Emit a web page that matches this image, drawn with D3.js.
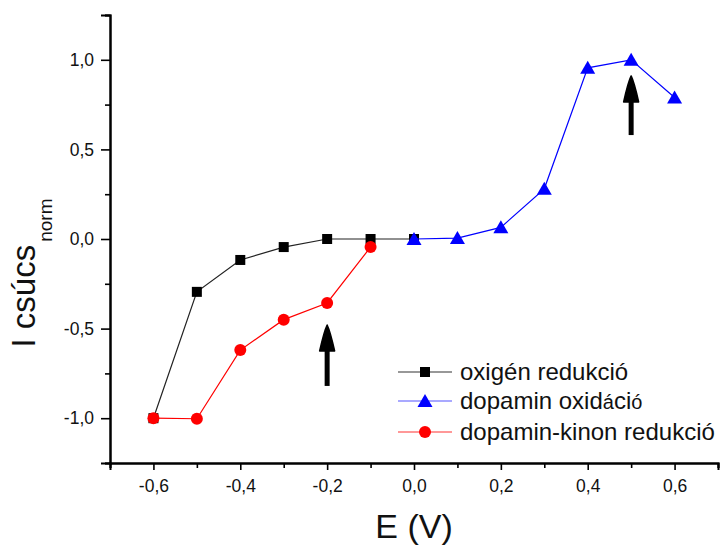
<!DOCTYPE html>
<html><head><meta charset="utf-8">
<script src="https://cdn.jsdelivr.net/npm/d3@7"></script>
<style>body{margin:0;background:#fff}svg{font-family:"Liberation Sans",Arial,sans-serif}</style>
</head><body>
<svg id="c" width="722" height="546"></svg>
<script>
const oxigenE = [-0.6,-0.5,-0.4,-0.3,-0.2,-0.1,0.0];
const oxigenI = [-1.0,-0.295,-0.117,-0.045,0.0,0.0,0.0];
const dopaminE = [0.0,0.1,0.2,0.3,0.4,0.5,0.6];
const dopaminI = [0.0,0.005,0.065,0.28,0.955,1.0,0.79];
const kinonE = [-0.6,-0.5,-0.4,-0.3,-0.2,-0.1];
const kinonI = [-1.0,-1.003,-0.62,-0.45,-0.357,-0.045];
const xTicks = [-0.6,-0.4,-0.2,0.0,0.2,0.4,0.6];
const yTicks = [-1.0,-0.5,0.0,0.5,1.0];
const arrowX = [-0.2, 0.5];
const arrowFrom = [-0.82, 0.58];
const arrowTo = [-0.48, 0.91];
const legendLabels = ["oxigén redukció","dopamin oxidáció","dopamin-kinon redukció"];

const svg = d3.select("#c");
const x = d3.scaleLinear().domain([-0.7,0.7]).range([110,718]);
const y = d3.scaleLinear().domain([-1.25,1.25]).range([463,15]);
const fmt = d => d3.format(".1f")(d).replace(".",",").replace("−","-");

// axes
const xAxis = svg.append("g").attr("transform","translate(0,463)")
  .call(d3.axisBottom(x).tickValues(xTicks).tickSize(7).tickFormat(fmt));
svg.append("g").attr("transform","translate(0,463)")
  .call(d3.axisBottom(x).tickValues(d3.range(-7,8,2).map(v=>v/10)).tickSize(5).tickFormat(""));
const yAxis = svg.append("g").attr("transform","translate(110,0)")
  .call(d3.axisLeft(y).tickValues(yTicks).tickSize(9).tickFormat(fmt));
svg.append("g").attr("transform","translate(110,0)")
  .call(d3.axisLeft(y).tickValues([-1.25,-0.75,-0.25,0.25,0.75,1.25]).tickSize(5).tickFormat(""));
svg.selectAll(".domain").attr("stroke","#000").attr("stroke-width",2);
svg.selectAll(".tick line").attr("stroke","#000").attr("stroke-width",1.6);
xAxis.selectAll(".tick text").attr("font-size",17.5).attr("dy","1.1em").attr("fill","#111");
yAxis.selectAll(".tick text").attr("font-size",17.5).attr("x",-16).attr("fill","#111");

// labels
svg.append("text").attr("x",414).attr("y",538).attr("text-anchor","middle")
  .attr("font-size",34).attr("fill","#111").text("E (V)");
const yl = svg.append("text").attr("transform","translate(35,273) rotate(-90)")
  .attr("text-anchor","middle").attr("font-size",33).attr("fill","#111");
yl.append("tspan").text("I csúcs");
yl.append("tspan").attr("font-size",19).attr("dy",17).attr("dx",3).text("norm");

// series
const line = d3.line().x(d=>x(d[0])).y(d=>y(d[1]));
const oxi = oxigenE.map((e,i)=>[e,oxigenI[i]]);
const dop = dopaminE.map((e,i)=>[e,dopaminI[i]]);
const kin = kinonE.map((e,i)=>[e,kinonI[i]]);
svg.append("path").attr("d",line(oxi)).attr("fill","none").attr("stroke","#222").attr("stroke-width",1.2);
svg.selectAll(".sq").data(oxi).enter().append("rect")
  .attr("x",d=>x(d[0])-5).attr("y",d=>y(d[1])-5).attr("width",10).attr("height",10).attr("fill","#000");
svg.append("path").attr("d",line(kin)).attr("fill","none").attr("stroke","#f00").attr("stroke-width",1.2);
svg.selectAll(".ci").data(kin).enter().append("circle")
  .attr("cx",d=>x(d[0])).attr("cy",d=>y(d[1])).attr("r",6).attr("fill","#f00");
svg.append("path").attr("d",line(dop)).attr("fill","none").attr("stroke","#00f").attr("stroke-width",1.2);
const tri = (cx,cy)=>`M${cx},${cy-7}L${cx+7.5},${cy+6}L${cx-7.5},${cy+6}Z`;
svg.selectAll(".tr").data(dop).enter().append("path")
  .attr("d",d=>tri(x(d[0]),y(d[1]))).attr("fill","#00f");

// arrows
arrowX.forEach((a,i)=>{
  const cx=x(a), y0=y(arrowFrom[i]), y1=y(arrowTo[i]);
  svg.append("line").attr("x1",cx).attr("x2",cx).attr("y1",y0).attr("y2",y1+20)
    .attr("stroke","#000").attr("stroke-width",5);
  svg.append("path").attr("d",`M${cx},${y1}Q${cx+3},${y1+6} ${cx+7.5},${y1+26}L${cx-7.5},${y1+26}Q${cx-3},${y1+6} ${cx},${y1}Z`)
    .attr("fill","#000").attr("stroke","#000").attr("stroke-width",1.5).attr("stroke-linejoin","round");
});

// legend
const lg = svg.append("g");
const lineCol = ["#333","#55f","#f33"];
const ly = [372,401,432];
legendLabels.forEach((t,i)=>{
  lg.append("line").attr("x1",398).attr("x2",452).attr("y1",ly[i]).attr("y2",ly[i])
    .attr("stroke",lineCol[i]).attr("stroke-width",1.2);
  if(i===0) lg.append("rect").attr("x",420).attr("y",ly[i]-5).attr("width",10).attr("height",10).attr("fill","#000");
  if(i===1) lg.append("path").attr("d",tri(425,ly[i])).attr("fill","#00f");
  if(i===2) lg.append("circle").attr("cx",425).attr("cy",ly[i]).attr("r",6).attr("fill","#f00");
  const tx = lg.append("text").attr("x",460).attr("y",ly[i]+8).attr("font-size",24).attr("fill","#111");
  if(i===1){
    tx.append("tspan").text("dopamin oxid");
    tx.append("tspan").attr("font-size",20).text("á");
    tx.append("tspan").attr("font-size",24).text("ci");
    tx.append("tspan").attr("font-size",20).text("ó");
  } else tx.text(t);
});
</script>
</body></html>
